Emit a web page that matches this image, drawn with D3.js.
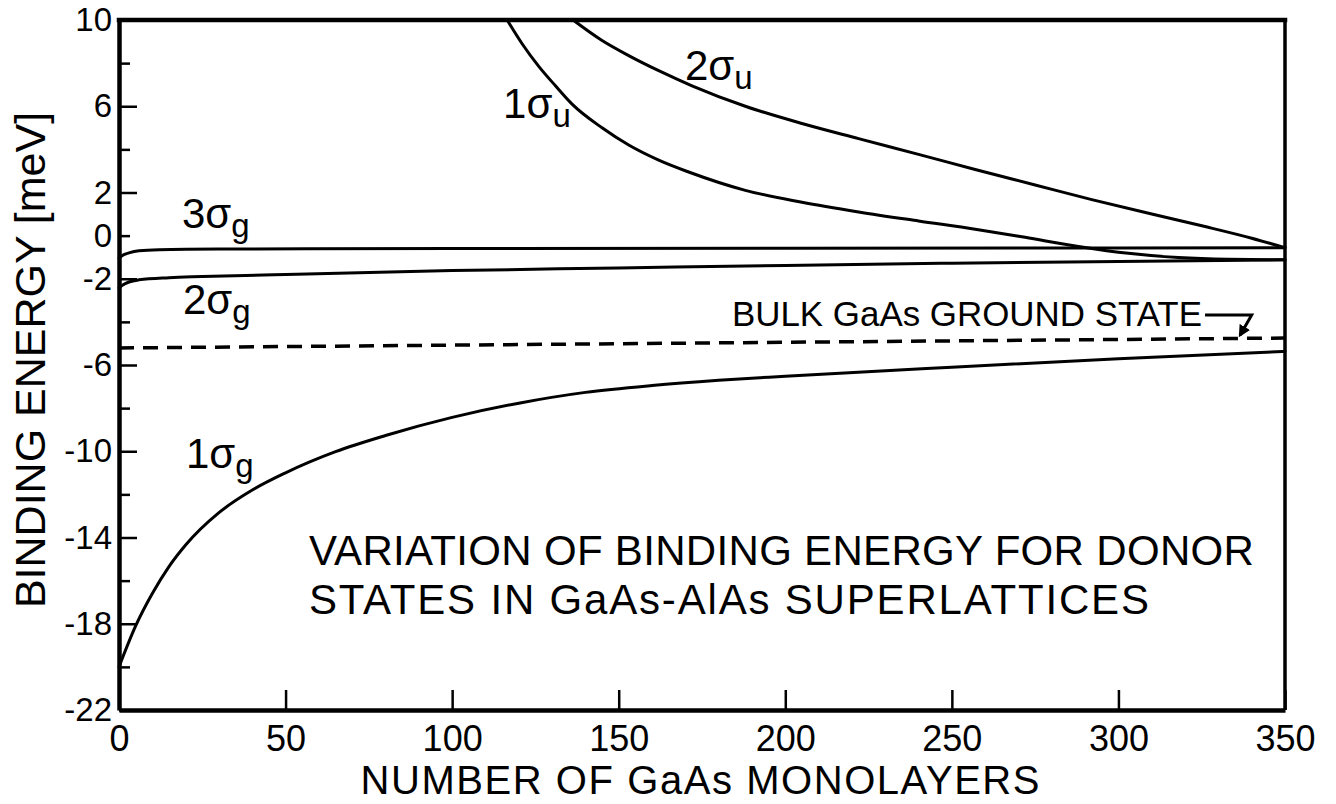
<!DOCTYPE html>
<html>
<head>
<meta charset="utf-8">
<script src="https://cdn.jsdelivr.net/npm/d3@7"></script>
<style>
  html, body { margin: 0; padding: 0; background: #fff; }
  svg { display: block; font-family: "Liberation Sans", Arial, sans-serif; }
</style>
</head>
<body>
<svg id="chart" width="1336" height="804"></svg>
<script>
// Axis ticks
const xTicks = [0, 50, 100, 150, 200, 250, 300, 350];
const yMajor = [10, 6, 2, -2, -6, -10, -14, -18, -22];
const yMinor = [8, 4, 0, -4, -8, -12, -16, -20];
const yLabeled = [10, 6, 2, 0, -2, -6, -10, -14, -18, -22];

// Binding energy (meV) vs number of GaAs monolayers, one array per donor state
const sigma1g = [[0,-20.0],[5,-18.1],[10,-16.6],[15,-15.35],[20,-14.35],[30,-12.85],[40,-11.8],
  [50,-11.0],[65,-10.02],[80,-9.27],[100,-8.43],[120,-7.77],[140,-7.27],[160,-6.95],[180,-6.71],
  [200,-6.52],[250,-6.1],[300,-5.71],[350,-5.37]];
const sigma2g = [[0,-2.42],[1,-2.3],[3,-2.15],[6,-2.05],[15,-1.95],[25,-1.9],[50,-1.8],[100,-1.62],
  [150,-1.5],[200,-1.38],[250,-1.28],[300,-1.2],[350,-1.12]];
const sigma3g = [[0,-1.05],[1,-0.92],[3,-0.8],[6,-0.7],[12,-0.65],[30,-0.62],[100,-0.6],[200,-0.59],
  [300,-0.57],[350,-0.56]];
const sigma1u = [[116.5,10],[121,8.9],[126,7.85],[131,6.95],[136,6.1],[145,5.0],[153,4.2],[162,3.5],
  [171,2.95],[188,2.1],[205,1.55],[222,1.1],[240,0.68],[257,0.3],[272,-0.08],[288,-0.5],[303,-0.82],
  [318,-1.02],[333,-1.1],[350,-1.12]];
const sigma2u = [[136.3,10],[145,9.05],[153,8.35],[162,7.65],[172,6.95],[188,6.0],[205,5.2],[222,4.5],
  [240,3.77],[257,3.07],[275,2.35],[292,1.67],[310,1.0],[326,0.42],[340,-0.12],[350,-0.56]];
// Bulk GaAs ground state reference level
const bulkLevel = [[0,-5.21],[350,-4.75]];

// Curve labels: [main text, subscript, x, energy at baseline]
const stateLabels = [
  ["3\u03C3", "g", 18.9, 0.35],
  ["2\u03C3", "g", 19.2, -3.63],
  ["1\u03C3", "g", 20.1, -10.78],
  ["1\u03C3", "u", 115.3, 5.45],
  ["2\u03C3", "u", 169.9, 7.22]
];
const noteLines = ["VARIATION OF BINDING ENERGY FOR DONOR", "STATES IN GaAs-AlAs SUPERLATTICES"];

const svg = d3.select("#chart");
svg.append("rect").attr("width", 1336).attr("height", 804).attr("fill", "#fff");

const x = d3.scaleLinear().domain([0, 350]).range([119, 1285]);
const y = d3.scaleLinear().domain([-22, 10]).range([710, 20]);

// X axis with inward ticks
const gx = svg.append("g")
  .attr("transform", `translate(0,${y(-22)})`)
  .call(d3.axisBottom(x).tickValues(xTicks).tickSize(-20).tickSizeOuter(0).tickPadding(15)
    .tickFormat(d => String(d)));
gx.select(".domain").attr("stroke", "#000").attr("stroke-width", 4.5);
gx.selectAll(".tick line").attr("stroke", "#000").attr("stroke-width", 2.5);
gx.selectAll(".tick text").attr("fill", "#000").attr("font-size", 36);

// Y axis: long ticks at the major values, short ones between
const gy = svg.append("g")
  .attr("transform", `translate(${x(0)},0)`)
  .call(d3.axisLeft(y).tickValues(yMajor.concat(yMinor)).tickSize(-18).tickSizeOuter(0).tickPadding(7)
    .tickFormat(d => yLabeled.includes(d) ? String(d) : ""));
gy.select(".domain").attr("stroke", "#000").attr("stroke-width", 4.5);
gy.selectAll(".tick line").attr("stroke", "#000").attr("stroke-width", 2.5)
  .attr("x2", d => yMinor.includes(d) ? 11 : 18);
gy.selectAll(".tick text").attr("fill", "#000").attr("font-size", 33);

// Top and right frame edges
svg.append("line").attr("x1", x(0)).attr("x2", x(350)).attr("y1", y(10)).attr("y2", y(10))
  .attr("stroke", "#000").attr("stroke-width", 4.5).attr("stroke-linecap", "square");
svg.append("line").attr("x1", x(350)).attr("x2", x(350)).attr("y1", y(10)).attr("y2", y(-22))
  .attr("stroke", "#000").attr("stroke-width", 3.5);

// Curves
const line = d3.line().x(d => x(d[0])).y(d => y(d[1])).curve(d3.curveMonotoneX);
[sigma1g, sigma2g, sigma3g, sigma1u, sigma2u].forEach(s => {
  svg.append("path").datum(s).attr("d", line)
    .attr("fill", "none").attr("stroke", "#000").attr("stroke-width", 3)
    .attr("stroke-linejoin", "round").attr("stroke-linecap", "round");
});

// Bulk level, dashed
svg.append("path").datum(bulkLevel).attr("d", d3.line().x(d => x(d[0])).y(d => y(d[1])))
  .attr("fill", "none").attr("stroke", "#000").attr("stroke-width", 3.5)
  .attr("stroke-dasharray", "15,9");

// Bulk label with pointer to the dashed level
svg.append("text").attr("x", x(184)).attr("y", y(-4.19))
  .attr("font-size", 35).attr("textLength", 470).attr("lengthAdjust", "spacingAndGlyphs")
  .attr("fill", "#000").text("BULK GaAs GROUND STATE");
svg.append("defs").append("marker").attr("id", "tip")
  .attr("viewBox", "0 0 10 10").attr("refX", 8).attr("refY", 5)
  .attr("markerWidth", 4).attr("markerHeight", 4).attr("orient", "auto")
  .append("path").attr("d", "M0,0 L10,5 L0,10 Z").attr("fill", "#000");
svg.append("path")
  .attr("d", `M${x(326)},${y(-3.68)} L${x(340)},${y(-3.68)} L${x(336.5)},${y(-4.62)}`)
  .attr("fill", "none").attr("stroke", "#000").attr("stroke-width", 3)
  .attr("marker-end", "url(#tip)");

// State labels with subscripts
stateLabels.forEach(([main, sub, lx, ly]) => {
  const t = svg.append("text").attr("x", x(lx)).attr("y", y(ly))
    .attr("font-size", 42).attr("fill", "#000");
  t.append("tspan").text(main);
  t.append("tspan").attr("dy", 9).attr("font-size", 33).text(sub);
});

// Note in the lower right
svg.append("text").attr("x", x(57)).attr("y", y(-15.28)).attr("font-size", 42)
  .attr("textLength", 945).attr("fill", "#000").text(noteLines[0]);
svg.append("text").attr("x", x(57)).attr("y", y(-17.55)).attr("font-size", 42)
  .attr("textLength", 840).attr("fill", "#000").text(noteLines[1]);

// Axis titles
svg.append("text").attr("x", 700).attr("y", 794).attr("text-anchor", "middle")
  .attr("font-size", 40).attr("textLength", 679).attr("fill", "#000")
  .text("NUMBER OF GaAs MONOLAYERS");
svg.append("text").attr("transform", "translate(45,360) rotate(-90)")
  .attr("text-anchor", "middle").attr("font-size", 43).attr("fill", "#000")
  .text("BINDING ENERGY [meV]");
</script>
</body>
</html>
